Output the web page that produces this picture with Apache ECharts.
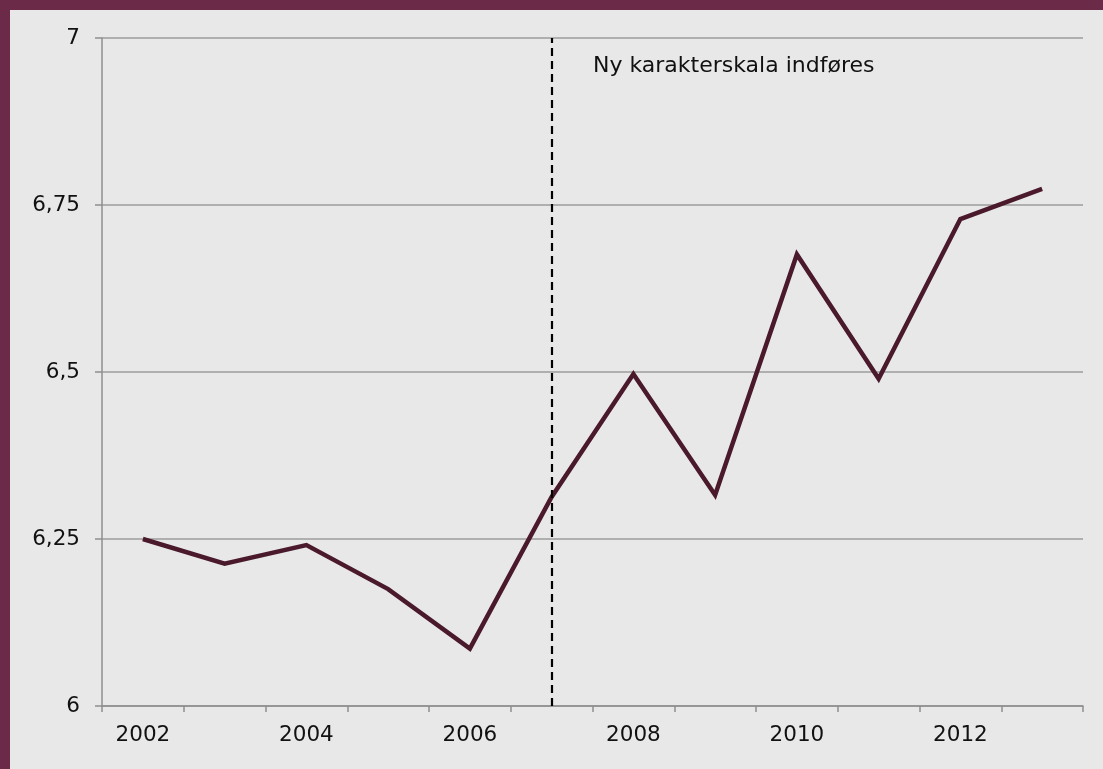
<!DOCTYPE html>
<html>
<head>
<meta charset="utf-8">
<script src="https://cdn.jsdelivr.net/npm/echarts@6/dist/echarts.min.js"></script>
<style>
html,body{margin:0;padding:0;width:1103px;height:769px;background:#6B2A47;overflow:hidden;}
#c{position:absolute;left:10px;top:10px;width:1093px;height:759px;background:#E8E8E8;}
</style>
</head>
<body>
<div id="c"></div>
<script>
const years = ['2002','2003','2004','2005','2006','2007','2008','2009','2010','2011','2012','2013'];
const grades = [6.25, 6.213, 6.241, 6.175, 6.086, 6.313, 6.497, 6.316, 6.676, 6.490, 6.729, 6.774];
const yTicks = {min: 6, max: 7, interval: 0.25};
const reformYear = '2007';
const reformText = 'Ny karakterskala indføres';

const chart = echarts.init(document.getElementById('c'), null, {renderer: 'canvas'});
const font = '"DejaVu Sans", Verdana, sans-serif';
chart.setOption({
  backgroundColor: '#E8E8E8',
  animation: false,
  grid: {left: 92, top: 28, right: 20, bottom: 63},
  xAxis: {
    type: 'category',
    data: years,
    boundaryGap: true,
    axisLine: {lineStyle: {color: '#8F8F8F', width: 1.5}},
    axisTick: {show: true, interval: 0, length: 6, lineStyle: {color: '#8F8F8F', width: 1.5}},
    axisLabel: {interval: 1, color: '#111', fontFamily: font, fontSize: 21.5, margin: 18},
    splitLine: {show: false}
  },
  yAxis: {
    type: 'value',
    min: yTicks.min, max: yTicks.max, interval: yTicks.interval,
    axisLine: {show: true, lineStyle: {color: '#8F8F8F', width: 1.5}},
    axisTick: {show: true, length: 7, lineStyle: {color: '#8F8F8F', width: 1.5}},
    axisLabel: {color: '#111', fontFamily: font, fontSize: 21.5, margin: 22,
      formatter: v => String(v).replace('.', ',')},
    splitLine: {show: true, lineStyle: {color: '#9C9C9C', width: 1.5}}
  },
  series: [{
    type: 'line',
    data: grades,
    symbol: 'none',
    lineStyle: {color: '#4A1A2C', width: 4.5, join: 'miter'},
    markLine: {
      silent: true,
      symbol: 'none',
      label: {show: false},
      lineStyle: {color: '#000', width: 2.2, type: [8, 5]},
      data: [{xAxis: reformYear}]
    }
  }],
  graphic: [{
    type: 'text',
    left: 583, top: 45,
    style: {text: reformText, fill: '#111', font: '22px ' + font}
  }]
});
</script>
</body>
</html>
